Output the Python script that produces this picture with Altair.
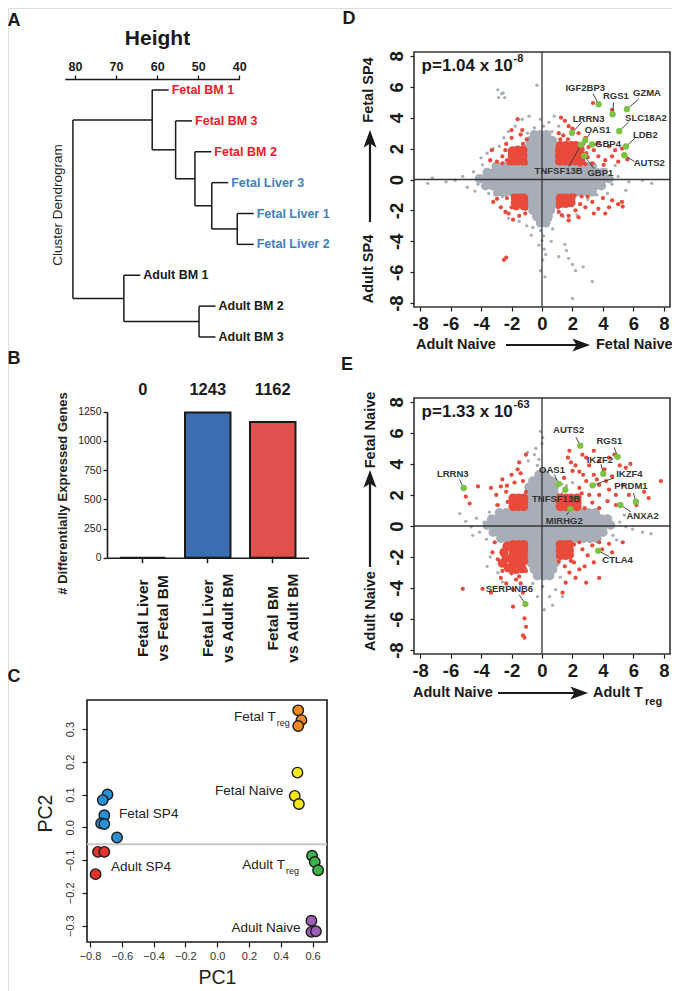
import altair as alt
import pandas as pd

FONT = "Liberation Sans, Arial, Helvetica, sans-serif"
INK = "#1a1a1a"
OFF = 8
W, H = 664, 983


def rng(a, b):
    return [a - OFF, b - OFF]


def lin(domain, a, b):
    return alt.Scale(domain=domain, range=rng(a, b), zero=False, nice=False)


# ---------------- Panel A: dendrogram ----------------
leaf_names = ["Fetal BM 1", "Fetal BM 3", "Fetal BM 2", "Fetal Liver 3", "Fetal Liver 1",
              "Fetal Liver 2", "Adult BM 1", "Adult BM 2", "Adult BM 3"]
leaf_group = ["Fetal BM"] * 3 + ["Fetal Liver"] * 3 + ["Adult BM"] * 3
merge_a = [4, 3, 2, 1, 0, 7, 6, 13]
merge_b = [5, 9, 10, 11, 12, 8, 14, 15]
merge_h = [40.5, 46.7, 50.8, 55.5, 61.2, 49.8, 68.1, 80.5]
HANG = 4.0
height_ticks = [80, 70, 60, 50, 40]
group_names = ["Fetal BM", "Fetal Liver", "Adult BM"]
group_colors = ["#e8202a", "#3f7fc0", "#1a1a1a"]

# ---------------- Panel B: bar chart ----------------
bar_cats = ["Fetal Liver|vs Fetal BM", "Fetal Liver|vs Adult BM", "Fetal BM|vs Adult BM"]
bar_counts = [0, 1243, 1162]
bar_fills = ["#222222", "#3a6db1", "#e0504f"]
bar_ticks = [0, 250, 500, 750, 1000, 1250]

# ---------------- Panel C: PCA ----------------
pca_group = (["Fetal SP4"] * 6 + ["Adult SP4"] * 3 + ["Fetal Treg"] * 3 +
             ["Fetal Naive"] * 3 + ["Adult Treg"] * 3 + ["Adult Naive"] * 3)
pca_pc1 = [-0.69, -0.72, -0.71, -0.73, -0.71, -0.63,
           -0.75, -0.71, -0.765,
           0.51, 0.53, 0.51,
           0.505, 0.488, 0.514,
           0.597, 0.614, 0.635,
           0.593, 0.593, 0.621]
pca_pc2 = [0.100, 0.083, 0.037, 0.012, 0.010, -0.031,
           -0.075, -0.075, -0.143,
           0.357, 0.327, 0.309,
           0.167, 0.096, 0.071,
           -0.087, -0.106, -0.131,
           -0.285, -0.319, -0.317]
pca_names = ["Fetal SP4", "Adult SP4", "Fetal Treg", "Fetal Naive", "Adult Treg", "Adult Naive"]
pca_colors = ["#2a8fd2", "#e2332b", "#f28a1c", "#f6e61c", "#3fb24a", "#9b5fb5"]
pc1_ticks = [-0.8, -0.6, -0.4, -0.2, 0.0, 0.2, 0.4, 0.6]
pc2_ticks = [-0.3, -0.2, -0.1, 0.0, 0.1, 0.2, 0.3]
pca_sep = -0.052

# ---------------- Panel D: scatter (Adult vs Fetal SP4 / Naive) ----------------
d_core_rows = [
    (2.9, [-0.5, -0.1, 0.3]),
    (2.5, [-0.8, -0.4, 0.0, 0.4, 0.7]),
    (2.1, [-0.85, -0.45, -0.05, 0.35, 0.8]),
    (1.7, [-0.85, -0.45, -0.05, 0.35, 0.8]),
    (1.3, [-0.85, -0.45, -0.05, 0.35, 0.8]),
    (0.85, [-3.0, -2.55, -2.1, -1.65, -1.2, -0.75, -0.3, 0.15, 0.6, 1.05, 1.5, 1.95, 2.4, 2.85, 3.3]),
    (0.45, [-3.6, -3.15, -2.7, -2.25, -1.8, -1.35, -0.9, -0.45, 0.0, 0.45, 0.9, 1.35, 1.8, 2.25, 2.7, 3.15, 3.6, 4.0]),
    (0.05, [-4.1, -3.65, -3.2, -2.75, -2.3, -1.85, -1.4, -0.95, -0.5, -0.05, 0.4, 0.85, 1.3, 1.75, 2.2, 2.65, 3.1, 3.55, 4.0, 4.4]),
    (-0.4, [-3.7, -3.25, -2.8, -2.35, -1.9, -1.45, -1.0, -0.55, -0.1, 0.35, 0.8, 1.25, 1.7, 2.15, 2.6, 3.05, 3.5, 3.9]),
    (-0.8, [-2.9, -2.45, -2.0, -1.55, -1.1, -0.65, -0.2, 0.25, 0.7, 1.15, 1.6, 2.05, 2.5, 2.95, 3.3]),
    (-1.2, [-0.85, -0.45, -0.05, 0.35, 0.8]),
    (-1.6, [-0.8, -0.4, 0.0, 0.4, 0.75]),
    (-2.0, [-0.6, -0.2, 0.2, 0.55]),
    (-2.4, [-0.35, 0.05, 0.4]),
    (-2.8, [-0.1, 0.25]),
]
d_gray = [(-2.9, 5.8), (-2.65, 5.55), (-2.85, 5.3), (-2.45, 5.3), (-2.55, 5.6), (-0.33, 6.1),
          (-0.85, 4.1), (-1.3, 3.9), (-1.75, 3.45), (-2.2, 3.1), (-2.5, 2.7), (-2.8, 2.15),
          (-3.2, 2.0), (-3.6, 1.7), (-4.0, 1.4), (0.45, 3.7), (0.8, 4.1), (1.1, 3.45),
          (-0.5, 3.35), (0.1, 3.45), (0.65, 3.1), (-0.95, 3.0), (-0.1, 3.9), (-2.6, -1.1),
          (-3.1, -1.0), (-3.5, -0.9), (-2.2, -2.5), (-1.5, -2.7), (1.4, -2.4), (2.3, -2.3),
          (3.0, -1.3), (3.6, -1.0), (-1.0, -3.0), (0.7, -3.2), (0.55, -2.6), (-0.6, -3.1),
          (-0.1, -3.3), (0.1, -3.65), (0.0, -3.95), (-0.2, -4.25), (0.15, -4.5), (0.25, -4.85),
          (0.05, -5.2), (-0.1, -5.9), (0.2, -6.3), (1.1, -5.0), (1.6, -4.6), (1.75, -5.1),
          (2.0, -5.5), (2.2, -5.9), (2.7, -5.65), (3.3, -6.6), (2.0, -7.7), (1.5, -4.2),
          (-7.5, -0.25), (-7.2, 0.1), (-6.3, -0.15), (-5.7, -0.05), (-5.2, 0.2), (-4.9, -0.5),
          (-4.5, 0.5), (-4.2, -0.3), (-4.4, -0.75), (-3.9, 0.95), (4.6, -0.3), (5.0, 0.2),
          (5.7, -0.15), (6.6, -0.05), (7.2, -0.25), (4.2, 0.65), (5.5, -0.7), (4.8, 0.9),
          (4.3, -0.9), (-3.4, 1.2), (-2.9, 1.05), (-0.7, -3.6), (0.6, -4.0)]
d_red_core = [(1.15, 1.2), (1.5, 1.2), (1.85, 1.2), (2.2, 1.2), (2.55, 1.2),
              (1.15, 1.55), (1.5, 1.55), (1.85, 1.55), (2.2, 1.55), (2.55, 1.55),
              (1.15, 1.9), (1.5, 1.9), (1.85, 1.9), (2.2, 1.9), (2.5, 1.95),
              (1.2, 2.2), (1.55, 2.2), (1.9, 2.2), (2.2, 2.2),
              (-1.95, 1.2), (-1.6, 1.2), (-1.25, 1.2), (-1.95, 1.55), (-1.6, 1.55), (-1.25, 1.55),
              (-1.95, 1.85), (-1.6, 1.9), (-1.25, 1.9),
              (-1.75, -1.2), (-1.45, -1.2), (-1.2, -1.2), (-1.75, -1.5), (-1.45, -1.5), (-1.2, -1.5),
              (-1.7, -1.7), (-1.2, -1.7),
              (1.2, -1.2), (1.55, -1.2), (1.9, -1.2), (1.2, -1.55), (1.55, -1.55), (1.9, -1.5)]
d_red = [(1.25, 4.0), (1.5, 3.8), (1.75, 3.45), (1.1, 3.0), (1.4, 2.85), (2.4, 3.0), (3.35, 4.95),
         (4.6, 4.5), (2.85, 2.7), (3.05, 2.1), (3.4, 1.9), (3.7, 1.5), (4.15, 1.25), (4.6, 1.5),
         (5.0, 1.15), (4.8, 1.9), (3.7, 2.35), (3.3, 1.05), (2.5, 0.95), (4.4, 2.15), (5.25, 2.0),
         (4.05, 0.95), (5.6, 1.3), (2.0, 3.3), (3.0, 1.45), (1.2, 2.6), (1.7, 2.6), (2.7, 2.3),
         (2.85, 1.0), (2.9, 1.7),
         (-2.0, 3.2), (-1.6, 3.9), (-3.3, 1.9), (-3.4, 1.25), (-2.95, 1.15), (-2.6, 1.5), (-2.4, 1.9),
         (-2.0, 2.7), (-1.4, 2.9), (-1.3, 3.2), (-2.6, 1.05), (-2.3, 1.25), (-2.35, 2.3), (-1.0, 2.6),
         (-1.25, 2.3), (-2.2, 1.05), (-1.05, 1.05),
         (-3.2, -1.45), (-2.7, -1.8), (-2.4, -2.1), (-2.2, -2.2), (-2.0, -1.8), (-2.95, -1.25),
         (-1.5, -2.35), (-1.1, -2.2), (-2.3, -1.2), (-2.5, -5.2), (-2.35, -5.05), (-1.9, -2.6),
         (-1.05, -1.9), (-1.9, -1.05),
         (1.1, -2.1), (1.3, -2.3), (1.75, -2.35), (2.2, -2.0), (2.5, -1.6), (2.85, -1.8), (3.3, -1.45),
         (3.7, -1.9), (4.15, -2.2), (4.6, -1.35), (5.0, -1.6), (5.25, -1.45), (3.4, -2.2), (2.4, -2.45),
         (1.75, -2.65), (4.4, -1.8), (2.6, -1.1), (3.0, -1.1), (4.0, -1.2), (5.3, -1.75),
         (2.15, -1.05), (1.05, -1.8)]
d_genes = ["IGF2BP3", "RGS1", "GZMA", "SLC18A2", "LDB2", "AUTS2", "LRRN3", "OAS1", "GBP4", "TNFSF13B", "GBP1"]
d_gx = [3.72, 4.63, 5.57, 5.07, 5.51, 5.40, 1.97, 2.84, 3.28, 2.56, 2.78]
d_gy = [4.87, 4.22, 4.55, 3.13, 2.14, 1.57, 3.02, 2.54, 2.27, 2.25, 1.53]
d_lx = [2.84, 4.85, 6.89, 6.82, 6.78, 7.04, 3.06, 3.65, 4.33, 1.09, 3.83]
d_ly = [5.90, 5.38, 5.57, 4.00, 2.91, 1.05, 3.93, 3.23, 2.32, 0.57, 0.44]
d_ex = [3.35, 4.70, 6.34, 5.68, 6.12, 6.08, 2.62, 3.17, 3.56, 1.75, 3.39]
d_ey = [5.55, 4.98, 5.20, 3.72, 2.69, 1.16, 3.72, 3.00, 2.27, 0.83, 0.72]

# ---------------- Panel E: scatter (Adult Naive vs Treg / Fetal Naive) ----------------
e_core_rows = [
    (3.3, [-0.2, 0.2]),
    (2.9, [-0.6, -0.2, 0.2, 0.6]),
    (2.5, [-0.85, -0.45, -0.05, 0.35, 0.8]),
    (2.1, [-0.85, -0.45, -0.05, 0.35, 0.8]),
    (1.7, [-0.85, -0.45, -0.05, 0.35, 0.8]),
    (1.3, [-0.85, -0.45, -0.05, 0.35, 0.8]),
    (0.85, [-2.8, -2.35, -1.9, -1.45, -1.0, -0.55, -0.1, 0.35, 0.8, 1.25, 1.7, 2.15, 2.6, 3.05, 3.5]),
    (0.45, [-3.3, -2.85, -2.4, -1.95, -1.5, -1.05, -0.6, -0.15, 0.3, 0.75, 1.2, 1.65, 2.1, 2.55, 3.0, 3.45, 3.9, 4.3]),
    (0.05, [-3.6, -3.15, -2.7, -2.25, -1.8, -1.35, -0.9, -0.45, 0.0, 0.45, 0.9, 1.35, 1.8, 2.25, 2.7, 3.15, 3.6, 4.05, 4.5]),
    (-0.4, [-3.2, -2.75, -2.3, -1.85, -1.4, -0.95, -0.5, -0.05, 0.4, 0.85, 1.3, 1.75, 2.2, 2.65, 3.1, 3.55, 4.0]),
    (-0.8, [-2.7, -2.25, -1.8, -1.35, -0.9, -0.45, 0.0, 0.45, 0.9, 1.35, 1.8, 2.25, 2.7, 3.15, 3.6]),
    (-1.2, [-0.85, -0.45, -0.05, 0.35, 0.8]),
    (-1.6, [-0.85, -0.45, -0.05, 0.35, 0.8]),
    (-2.0, [-0.8, -0.4, 0.0, 0.4, 0.8]),
    (-2.4, [-0.7, -0.3, 0.1, 0.5, 0.85]),
    (-2.8, [-0.5, -0.1, 0.3, 0.7]),
    (-3.2, [-0.3, 0.1, 0.5]),
]
e_gray = [(-5.4, 0.8), (-4.65, -0.05), (-4.3, 0.5), (-4.1, -0.4), (-3.8, 0.25), (-4.55, -0.6),
          (-3.65, -0.85), (-5.0, 0.3), (-3.0, 1.35), (-3.45, 0.9), (5.1, 0.25), (5.5, -0.05),
          (5.95, -0.2), (6.6, -0.4), (7.15, -0.5), (5.4, 0.7), (4.65, -0.6), (4.9, -0.9),
          (-0.2, 4.3), (-0.3, 3.9), (0.15, 3.6), (0.5, 3.2), (-0.4, 5.0), (0.0, 5.3), (-0.1, 6.1),
          (0.05, 5.7), (-0.95, 4.75), (-0.5, 4.6), (0.9, 3.0), (1.3, 2.7), (1.6, 2.6), (2.0, 2.8),
          (0.25, -3.35), (0.05, -3.9), (0.5, -4.55), (0.7, -5.1), (0.15, -5.4), (0.9, -4.1),
          (-0.3, -4.55), (1.35, -4.55), (-0.6, -3.7), (-3.4, -2.0), (-3.6, -2.6), (-2.6, -3.6),
          (-2.9, -3.0), (1.2, -3.3), (-0.9, 4.2)]
e_red_core = [(-1.9, 1.25), (-1.55, 1.25), (-1.2, 1.25), (-1.9, 1.55), (-1.55, 1.55), (-1.2, 1.55),
              (-1.9, 1.8), (-1.55, 1.8), (-1.2, 1.8),
              (1.2, 1.25), (1.55, 1.25), (1.9, 1.25), (2.3, 1.25), (1.2, 1.55), (1.55, 1.55),
              (1.9, 1.55), (2.3, 1.55), (1.2, 1.8), (1.55, 1.8), (1.9, 1.8), (2.3, 1.8),
              (-1.9, -1.2), (-1.55, -1.2), (-1.2, -1.2), (-1.9, -1.55), (-1.55, -1.55), (-1.2, -1.55),
              (-1.9, -1.9), (-1.55, -1.9), (-1.2, -1.9), (-1.9, -2.25), (-1.55, -2.25), (-1.2, -2.25),
              (-1.85, -2.5), (-1.45, -2.5), (-2.3, -1.3), (-2.5, -1.7), (-2.35, -2.1), (-2.6, -2.4),
              (-2.2, -2.7), (-1.7, -2.8), (-1.3, -2.75),
              (1.2, -1.2), (1.55, -1.2), (1.8, -1.2), (1.2, -1.55), (1.55, -1.55), (1.8, -1.55),
              (1.2, -1.9), (1.55, -1.9), (1.8, -1.85)]
e_red = [(1.7, 4.4), (1.9, 4.1), (2.2, 3.9), (2.45, 3.5), (2.9, 4.4), (3.1, 3.9), (3.4, 3.3),
         (3.75, 4.2), (4.1, 3.65), (4.4, 4.4), (4.75, 4.6), (5.1, 3.9), (5.5, 3.75), (5.8, 4.0),
         (4.6, 3.2), (4.2, 2.9), (3.75, 2.65), (2.9, 2.9), (2.45, 2.45), (3.1, 2.0), (3.75, 2.0),
         (4.4, 2.35), (4.85, 2.0), (5.3, 2.65), (5.7, 2.0), (6.2, 1.35), (6.7, 2.2), (7.0, 1.8),
         (7.8, 2.9), (4.85, 1.35), (3.75, 1.15), (2.8, 1.15), (2.0, 3.55), (1.45, 3.1), (1.8, 4.85),
         (3.4, 4.85), (2.65, 4.6), (2.6, 2.1), (3.3, 1.5), (4.3, 1.6), (2.7, 3.3), (3.6, 3.0),
         (-1.5, 4.1), (-1.6, 3.65), (-2.0, 3.3), (-2.6, 3.0), (-2.7, 2.55), (-2.35, 2.2), (-3.0, 2.0),
         (-3.35, 2.45), (-4.2, 2.55), (-4.75, 1.45), (-5.0, 1.9), (-1.8, 2.8), (-1.05, 4.6),
         (-1.25, 2.9), (-2.25, 1.55), (-2.9, 1.35), (-1.4, 3.4), (-2.3, 2.6), (-1.05, 2.2),
         (-5.2, -4.05), (-3.9, -4.05), (-3.35, -4.3), (-2.7, -3.35), (-2.35, -3.7), (-1.9, -4.1),
         (-1.7, -3.45), (-3.25, -1.7), (-2.9, -2.15), (-3.1, -1.05), (-1.4, -3.7), (-1.25, -4.3),
         (-1.15, -5.95), (-1.05, -6.5), (-1.25, -7.05), (-1.15, -7.2), (-1.5, -3.25), (-1.05, -2.9),
         (-2.0, -3.05), (-1.9, -5.2), (-2.6, -2.9),
         (2.45, -1.05), (2.65, -1.5), (3.0, -1.9), (3.3, -1.25), (3.75, -1.05), (3.95, -1.5),
         (4.4, -1.15), (4.6, -1.7), (5.3, -1.05), (2.1, -2.35), (2.45, -2.8), (2.8, -2.6),
         (1.8, -3.0), (1.55, -3.65), (2.2, -3.35), (2.9, -3.65), (3.75, -3.35), (1.35, -4.3),
         (1.9, -2.25), (3.4, -2.35), (2.1, -1.2), (1.1, -2.3), (1.5, -2.6)]
e_genes = ["AUTS2", "RGS1", "IKZF2", "IKZF4", "OAS1", "TNFSF13B", "MIRHG2", "PRDM1", "ANXA2",
           "CTLA4", "SERPINB6", "LRRN3"]
e_gx = [2.51, 4.96, 4.02, 3.32, 1.09, 1.53, 1.86, 6.16, 5.14, 3.69, -1.09, -5.14]
e_gy = [5.18, 4.46, 3.37, 2.62, 2.71, 2.34, 1.09, 1.57, 1.36, -1.60, -5.03, 2.45]
e_lx = [1.75, 4.42, 3.80, 5.73, 0.66, 0.92, 1.46, 5.84, 6.60, 4.96, -2.14, -5.86]
e_ly = [6.16, 5.51, 4.26, 3.37, 3.63, 1.75, 0.33, 2.58, 0.63, -2.19, -4.07, 3.32]
e_ex = [2.23, 4.74, 3.87, 4.74, 0.81, 1.25, 1.62, 5.99, 5.84, 4.42, -1.49, -5.42]
e_ey = [5.73, 5.07, 3.98, 3.10, 3.32, 2.05, 0.70, 2.12, 0.92, -1.97, -4.44, 3.00]

scatter_ticks = [-8, -6, -4, -2, 0, 2, 4, 6, 8]
SC_X = [-8.4, 8.4]
SC_Y = [-8.25, 8.25]

GRAY = "#a8aeb8"
RED = "#e84a3b"
GREEN = "#7cc243"


# ---------------- helpers ----------------
def note(text, x, y, size, weight="bold", angle=0, align="center", baseline="middle",
         color=INK, font=FONT):
    return alt.Chart(pd.DataFrame({"t": [text]})).mark_text(
        font=font, fontSize=size, fontWeight=weight, angle=angle, align=align,
        baseline=baseline, color=color
    ).encode(x=alt.value(x - OFF), y=alt.value(y - OFF), text="t:N")


UP_HEAD = "M0,-1L0.72,0.95L0,0.5L-0.72,0.95Z"
RIGHT_HEAD = "M1,0L-0.95,0.72L-0.5,0L-0.95,-0.72Z"


def arrow(x1, y1, x2, y2, shape):
    df = pd.DataFrame({"k": [0]})
    line = alt.Chart(df).mark_rule(color=INK, strokeWidth=2.2).encode(
        x=alt.value(x1 - OFF), x2=alt.value(x2 - OFF),
        y=alt.value(y1 - OFF), y2=alt.value(y2 - OFF))
    head = alt.Chart(df).mark_point(shape=shape, filled=True, size=330, color=INK,
                                    opacity=1, strokeWidth=0).encode(
        x=alt.value(x2 - OFF), y=alt.value(y2 - OFF))
    return [line, head]


def rows_to_df(rows):
    xs, ys = [], []
    for yv, xl in rows:
        for xv in xl:
            xs.append(xv)
            ys.append(yv)
    return pd.DataFrame({"x": xs, "y": ys})


def pairs_df(p):
    return pd.DataFrame(p, columns=["x", "y"])


layers = []

# ======== Panel A ========
n = len(leaf_names)
node_y = list(range(n)) + [0.0] * len(merge_h)
node_h = [0.0] * n + list(merge_h)
for k, (a, b) in enumerate(zip(merge_a, merge_b)):
    node_y[n + k] = (node_y[a] + node_y[b]) / 2
    for c in (a, b):
        if c < n:
            node_h[c] = merge_h[k] - HANG
segs = []
for k, (a, b) in enumerate(zip(merge_a, merge_b)):
    h = merge_h[k]
    segs.append(dict(x=h, x2=h, y=node_y[a], y2=node_y[b]))
    for c in (a, b):
        segs.append(dict(x=h, x2=node_h[c], y=node_y[c], y2=node_y[c]))
seg_df = pd.DataFrame(segs)
leaf_df = pd.DataFrame({"name": leaf_names, "group": leaf_group,
                        "x": node_h[:n], "y": list(range(n))})

A_X = lin([82.5, 40], 64.7, 239.3)
A_Y = lin([0, 8], 90, 337)
axisA = alt.Axis(orient="top", offset=-(79 - OFF), values=height_ticks, format="d",
                 labelFont=FONT, labelFontSize=12.5, labelFontWeight="bold", labelColor=INK,
                 labelPadding=2, labelFlush=False, labelOverlap=False,
                 tickSize=4, tickColor=INK, tickWidth=1.3, domainColor=INK, domainWidth=1.3,
                 grid=False, title="Height", titleFont=FONT, titleFontSize=21,
                 titleFontWeight="bold", titleColor=INK, titleX=157 - OFF, titleY=38 - 79,
                 titleAlign="center", titleBaseline="middle")
layers.append(alt.Chart(seg_df).mark_rule(color=INK, strokeWidth=1.5).encode(
    x=alt.X("x:Q", scale=A_X, axis=axisA), x2="x2:Q",
    y=alt.Y("y:Q", scale=A_Y, axis=None), y2="y2:Q"))
layers.append(alt.Chart(leaf_df).mark_text(
    align="left", baseline="middle", dx=3, font=FONT, fontSize=12.5, fontWeight="bold").encode(
    x=alt.X("x:Q", scale=A_X, axis=None), y=alt.Y("y:Q", scale=A_Y, axis=None),
    text="name:N",
    color=alt.Color("group:N", scale=alt.Scale(domain=group_names, range=group_colors), legend=None)))
layers.append(note("Cluster Dendrogram", 58, 205, 13.5, weight="normal", angle=270, color="#222"))
layers.append(note("A", 14, 21, 18))

# ======== Panel B ========
bar_df = pd.DataFrame({"cat": bar_cats, "count": bar_counts,
                       "label": [str(v) for v in bar_counts]})
B_X = alt.Scale(type="band", domain=bar_cats, range=rng(107, 308.5),
                paddingInner=0.3, paddingOuter=0.2)
B_Y = lin([0, 1250], 557.7, 411.7)
axisBx = alt.Axis(orient="bottom", offset=(557.7 - OFF) - H,
                  labelExpr="split(datum.label, '|')", labelAngle=270, labelAlign="center",
                  labelBaseline="middle", labelPadding=55, labelLineHeight=20,
                  labelFont=FONT, labelFontSize=15.5, labelFontWeight="bold", labelColor=INK,
                  tickSize=5, tickColor=INK, tickWidth=1.5, domainColor=INK, domainWidth=1.6,
                  grid=False, title=None)
axisBy = alt.Axis(orient="left", offset=-(107 - OFF), values=bar_ticks, format="d",
                  labelFont=FONT, labelFontSize=10.5, labelColor="#222", labelPadding=2,
                  labelFlush=False, labelOverlap=False,
                  tickSize=4, tickColor=INK, tickWidth=1.3, domainColor=INK, domainWidth=1.6,
                  grid=False, title="# Differentially Expressed Genes", titleFont=FONT,
                  titleFontSize=13, titleFontWeight="bold", titleColor="#222",
                  titleX=62 - 107, titleY=493 - OFF, titleAngle=270, titleAlign="center",
                  titleBaseline="middle")
layers.append(alt.Chart(bar_df).mark_bar(stroke=INK, strokeWidth=2, opacity=1).encode(
    x=alt.X("cat:N", scale=B_X, axis=axisBx, sort=bar_cats),
    y=alt.Y("count:Q", scale=B_Y, axis=axisBy),
    color=alt.Color("cat:N", scale=alt.Scale(domain=bar_cats, range=bar_fills), legend=None)))
layers.append(alt.Chart(bar_df).mark_text(font=FONT, fontSize=16.5, fontWeight="bold",
                                           color=INK, baseline="middle").encode(
    x=alt.X("cat:N", scale=B_X, axis=None, sort=bar_cats),
    y=alt.value(390 - OFF), text="label:N"))
layers.append(note("B", 14, 359, 18))

# ======== Panel C ========
C_XD = [-0.819, 0.691]
C_YD = [-0.35, 0.3885]
C_X = lin(C_XD, 87, 327)
C_Y = lin(C_YD, 942, 700)
axisCx = alt.Axis(orient="bottom", offset=(942 - OFF) - H, values=pc1_ticks, format=".1f",
                  labelFont=FONT, labelFontSize=11, labelColor="#333", labelPadding=3,
                  labelFlush=False, labelOverlap=False, tickSize=5, tickColor=INK,
                  tickWidth=1.2, domain=False, grid=False, title="PC1", titleFont=FONT,
                  titleFontSize=19.5, titleFontWeight="normal", titleColor="#222",
                  titleX=217 - OFF, titleY=977 - 942, titleAlign="center", titleBaseline="middle")
axisCy = alt.Axis(orient="left", offset=-(87 - OFF), values=pc2_ticks, format=".1f",
                  labelFont=FONT, labelFontSize=11, labelColor="#333", labelPadding=7,
                  labelAngle=270, labelAlign="center", labelBaseline="bottom",
                  labelFlush=False, labelOverlap=False, tickSize=5, tickColor=INK,
                  tickWidth=1.2, domain=False, grid=False, title="PC2", titleFont=FONT,
                  titleFontSize=19.5, titleFontWeight="normal", titleColor="#222",
                  titleX=45 - 87, titleY=813 - OFF, titleAngle=270, titleAlign="center",
                  titleBaseline="middle")
frameC = pd.DataFrame({"x": [C_XD[0]], "x2": [C_XD[1]], "y": [C_YD[0]], "y2": [C_YD[1]]})
layers.append(alt.Chart(frameC).mark_rect(fillOpacity=0, stroke=INK, strokeWidth=1.6).encode(
    x=alt.X("x:Q", scale=C_X, axis=axisCx), x2="x2:Q",
    y=alt.Y("y:Q", scale=C_Y, axis=axisCy), y2="y2:Q"))
sepC = pd.DataFrame({"x": [C_XD[0]], "x2": [C_XD[1]], "y": [pca_sep]})
layers.append(alt.Chart(sepC).mark_rule(color="#c8c8c8", strokeWidth=2).encode(
    x=alt.X("x:Q", scale=C_X, axis=None), x2="x2:Q",
    y=alt.Y("y:Q", scale=C_Y, axis=None)))
pca_df = pd.DataFrame({"pc1": pca_pc1, "pc2": pca_pc2, "g": pca_group})
layers.append(alt.Chart(pca_df).mark_circle(size=110, opacity=1, stroke=INK, strokeWidth=1.4).encode(
    x=alt.X("pc1:Q", scale=C_X, axis=None), y=alt.Y("pc2:Q", scale=C_Y, axis=None),
    color=alt.Color("g:N", scale=alt.Scale(domain=pca_names, range=pca_colors), legend=None)))
c_right = pd.DataFrame({"t": ["Fetal T", "Fetal Naive", "Adult T", "Adult Naive"],
                        "x": [0.369, 0.416, 0.426, 0.525], "y": [0.336, 0.111, -0.114, -0.307]})
c_left = pd.DataFrame({"t": ["Fetal SP4", "Adult SP4"], "x": [-0.617, -0.668], "y": [0.042, -0.121]})
c_sub = pd.DataFrame({"t": ["reg", "reg"], "x": [0.369, 0.426], "y": [0.336, -0.114]})
for df_, al in ((c_right, "right"), (c_left, "left")):
    layers.append(alt.Chart(df_).mark_text(font=FONT, fontSize=13.5, color="#222", align=al,
                                           baseline="middle").encode(
        x=alt.X("x:Q", scale=C_X, axis=None), y=alt.Y("y:Q", scale=C_Y, axis=None), text="t:N"))
layers.append(alt.Chart(c_sub).mark_text(font=FONT, fontSize=9, color="#222", align="left",
                                         baseline="middle", dx=1, dy=6).encode(
    x=alt.X("x:Q", scale=C_X, axis=None), y=alt.Y("y:Q", scale=C_Y, axis=None), text="t:N"))
layers.append(note("C", 14, 677, 18))


# ======== Panels D & E ========
def scatter_panel(top, bottom, core_rows, gray, red_core, red, genes, gx, gy, lx, ly, ex, ey,
                  pmain, pexp):
    xs = lin(SC_X, 414, 670)
    ys = lin(SC_Y, bottom, top)
    lab_expr = "(datum.value < 0 ? '-' : '') + abs(datum.value)"
    ax = alt.Axis(orient="bottom", offset=(bottom - OFF) - H, values=scatter_ticks,
                  labelExpr=lab_expr, labelFont=FONT, labelFontSize=18.5, labelFontWeight="bold",
                  labelColor=INK, labelPadding=3, labelFlush=False, labelOverlap=False,
                  tickSize=4, tickColor=INK, tickWidth=1.2, domain=False, grid=False, title=None)
    ay = alt.Axis(orient="left", offset=-(414 - OFF), values=scatter_ticks,
                  labelExpr=lab_expr, labelFont=FONT, labelFontSize=18.5, labelFontWeight="bold",
                  labelColor=INK, labelPadding=4, labelAngle=270, labelAlign="center",
                  labelBaseline="bottom", labelFlush=False, labelOverlap=False,
                  tickSize=4, tickColor=INK, tickWidth=1.2, domain=False, grid=False, title=None)
    out = []
    frame = pd.DataFrame({"x": [SC_X[0]], "x2": [SC_X[1]], "y": [SC_Y[0]], "y2": [SC_Y[1]]})
    out.append(alt.Chart(frame).mark_rect(fillOpacity=0, stroke="#333", strokeWidth=1.6).encode(
        x=alt.X("x:Q", scale=xs, axis=ax), x2="x2:Q",
        y=alt.Y("y:Q", scale=ys, axis=ay), y2="y2:Q"))

    def pts(df, color, size):
        return alt.Chart(df).mark_circle(color=color, size=size, opacity=1).encode(
            x=alt.X("x:Q", scale=xs, axis=None), y=alt.Y("y:Q", scale=ys, axis=None))

    out.append(pts(rows_to_df(core_rows), GRAY, 90))
    out.append(pts(pairs_df(gray), GRAY, 11))
    vline = pd.DataFrame({"x": [0.0], "y": [SC_Y[0]], "y2": [SC_Y[1]]})
    hline = pd.DataFrame({"y": [0.0], "x": [SC_X[0]], "x2": [SC_X[1]]})
    out.append(alt.Chart(vline).mark_rule(color="#333", strokeWidth=1.3).encode(
        x=alt.X("x:Q", scale=xs, axis=None), y=alt.Y("y:Q", scale=ys, axis=None), y2="y2:Q"))
    out.append(alt.Chart(hline).mark_rule(color="#333", strokeWidth=1.3).encode(
        y=alt.Y("y:Q", scale=ys, axis=None), x=alt.X("x:Q", scale=xs, axis=None), x2="x2:Q"))
    out.append(pts(pairs_df(red_core), RED, 85))
    out.append(pts(pairs_df(red), RED, 18))
    gdf = pd.DataFrame({"g": genes, "x": gx, "y": gy, "lx": lx, "ly": ly, "ex": ex, "ey": ey})
    out.append(alt.Chart(gdf).mark_rule(color="#333", strokeWidth=0.9).encode(
        x=alt.X("x:Q", scale=xs, axis=None), y=alt.Y("y:Q", scale=ys, axis=None),
        x2="ex:Q", y2="ey:Q"))
    out.append(pts(gdf[["x", "y"]], GREEN, 40))
    out.append(alt.Chart(gdf).mark_text(font=FONT, fontSize=9.5, fontWeight="bold", color="#333",
                                        align="center", baseline="middle").encode(
        x=alt.X("lx:Q", scale=xs, axis=None), y=alt.Y("ly:Q", scale=ys, axis=None), text="g:N"))
    pdf = pd.DataFrame({"t": [pmain], "s": [pexp], "x": [-7.9], "y": [7.05]})
    out.append(alt.Chart(pdf).mark_text(font=FONT, fontSize=17, fontWeight="bold", color=INK,
                                        align="left", baseline="alphabetic").encode(
        x=alt.X("x:Q", scale=xs, axis=None), y=alt.Y("y:Q", scale=ys, axis=None), text="t:N"))
    out.append(alt.Chart(pdf).mark_text(font=FONT, fontSize=11, fontWeight="bold", color=INK,
                                        align="left", baseline="alphabetic", dx=92, dy=-9).encode(
        x=alt.X("x:Q", scale=xs, axis=None), y=alt.Y("y:Q", scale=ys, axis=None), text="s:N"))
    return out


layers += scatter_panel(52, 307, d_core_rows, d_gray, d_red_core, d_red,
                        d_genes, d_gx, d_gy, d_lx, d_ly, d_ex, d_ey, "p=1.04 x 10", "-8")
layers += scatter_panel(398, 654, e_core_rows, e_gray, e_red_core, e_red,
                        e_genes, e_gx, e_gy, e_lx, e_ly, e_ex, e_ey, "p=1.33 x 10", "-63")

# axis titles with arrows, panel D
layers.append(note("Fetal SP4", 369, 90, 14.5, angle=270))
layers.append(note("Adult SP4", 369, 269, 14.5, angle=270))
layers += arrow(370, 222, 370, 139, UP_HEAD)
layers.append(note("Adult Naive", 416, 345, 14.5, align="left"))
layers += arrow(506, 345, 581, 345, RIGHT_HEAD)
layers.append(note("Fetal Naive", 596, 345, 14.5, align="left"))
layers.append(note("D", 349, 19, 18))

# axis titles with arrows, panel E
layers.append(note("Fetal Naive", 371, 430, 14.5, angle=270))
layers.append(note("Adult Naive", 371, 611, 14.5, angle=270))
layers += arrow(370, 567, 370, 479, UP_HEAD)
layers.append(note("Adult Naive", 413, 693, 14.5, align="left"))
layers += arrow(498, 693, 579, 693, RIGHT_HEAD)
layers.append(note("Adult T", 593, 693, 14.5, align="left"))
layers.append(note("reg", 645, 702, 11, align="left"))
layers.append(note("E", 347, 365, 18))

chart = alt.layer(*layers).resolve_scale(
    x="independent", y="independent", color="independent"
).properties(
    width=W, height=H, autosize=alt.AutoSizeParams(type="none"), padding=0
).configure_view(stroke=None).configure(font=FONT)

chart.save("out.html", embed_options={"renderer": "svg", "actions": False})
